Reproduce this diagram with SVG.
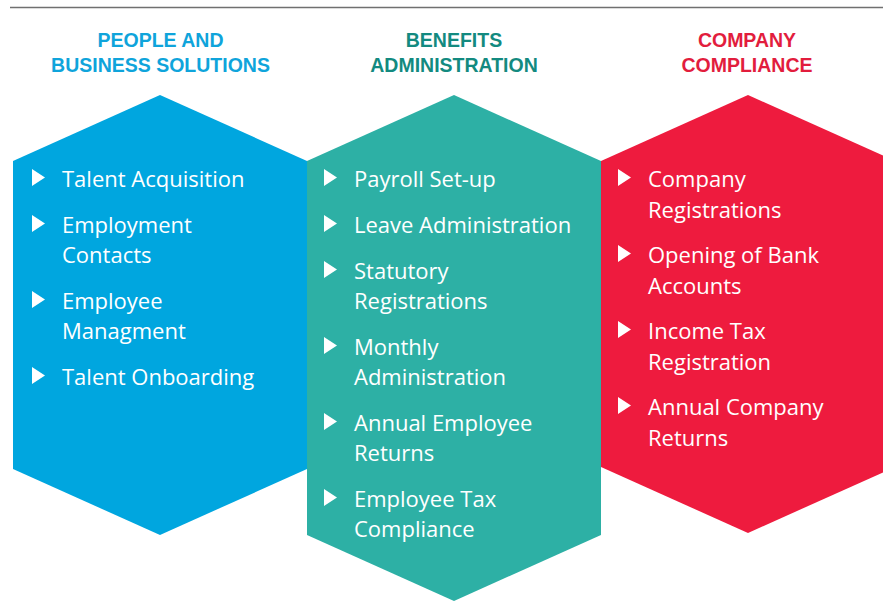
<svg xmlns="http://www.w3.org/2000/svg" width="883" height="601" viewBox="0 0 883 601">
<defs>
<style>
.hdr{font-family:"Liberation Sans",Arial,sans-serif;font-weight:bold;font-size:19.5px;text-anchor:middle}
.item{font-family:"Open Sans","Liberation Sans",sans-serif;font-size:22px;fill:#ffffff}
.bul{fill:#ffffff}
</style>
<polygon id="tri" points="0,0 13,8.5 0,17"/>
</defs>
<rect width="883" height="601" fill="#ffffff"/>
<line x1="10" y1="7.5" x2="883" y2="7.5" stroke="#707070" stroke-width="1.6"/>
<g id="connectors"/>
<g id="people">
<text class="hdr" fill="#0FA4DB" x="160.5" y="47">PEOPLE AND</text>
<text class="hdr" fill="#0FA4DB" x="160.5" y="72">BUSINESS SOLUTIONS</text>
<polygon fill="#00A6DF" points="160,95 307,161 307,469 160,535 13,469 13,161"/>
<use href="#tri" class="bul" x="32" y="169"/>
<text class="item" x="62" y="187">Talent Acquisition</text>
<use href="#tri" class="bul" x="32" y="215"/>
<text class="item" x="62" y="233">Employment</text>
<text class="item" x="62" y="263">Contacts</text>
<use href="#tri" class="bul" x="32" y="291"/>
<text class="item" x="62" y="309">Employee</text>
<text class="item" x="62" y="339">Managment</text>
<use href="#tri" class="bul" x="32" y="367"/>
<text class="item" x="62" y="385">Talent Onboarding</text>
</g>
<g id="benefits">
<text class="hdr" fill="#138A80" x="454" y="47">BENEFITS</text>
<text class="hdr" fill="#138A80" x="454" y="72">ADMINISTRATION</text>
<polygon fill="#2DB0A5" points="454,95 601,161 601,535 454,601 307,535 307,161"/>
<use href="#tri" class="bul" x="324" y="169"/>
<text class="item" x="354" y="187">Payroll Set-up</text>
<use href="#tri" class="bul" x="324" y="215"/>
<text class="item" x="354" y="233">Leave Administration</text>
<use href="#tri" class="bul" x="324" y="261"/>
<text class="item" x="354" y="279">Statutory</text>
<text class="item" x="354" y="309">Registrations</text>
<use href="#tri" class="bul" x="324" y="337"/>
<text class="item" x="354" y="355">Monthly</text>
<text class="item" x="354" y="385">Administration</text>
<use href="#tri" class="bul" x="324" y="413"/>
<text class="item" x="354" y="431">Annual Employee</text>
<text class="item" x="354" y="461">Returns</text>
<use href="#tri" class="bul" x="324" y="489"/>
<text class="item" x="354" y="507">Employee Tax</text>
<text class="item" x="354" y="537">Compliance</text>
</g>
<g id="compliance">
<text class="hdr" fill="#E21D3D" x="747" y="47">COMPANY</text>
<text class="hdr" fill="#E21D3D" x="747" y="72">COMPLIANCE</text>
<polygon fill="#EE1B3E" points="748,95 895,161 895,467 748,533 601,467 601,161"/>
<use href="#tri" class="bul" x="618" y="169"/>
<text class="item" x="648" y="187">Company</text>
<text class="item" x="648" y="218">Registrations</text>
<use href="#tri" class="bul" x="618" y="245"/>
<text class="item" x="648" y="263">Opening of Bank</text>
<text class="item" x="648" y="294">Accounts</text>
<use href="#tri" class="bul" x="618" y="321"/>
<text class="item" x="648" y="339">Income Tax</text>
<text class="item" x="648" y="370">Registration</text>
<use href="#tri" class="bul" x="618" y="397"/>
<text class="item" x="648" y="415">Annual Company</text>
<text class="item" x="648" y="446">Returns</text>
</g>
</svg>
